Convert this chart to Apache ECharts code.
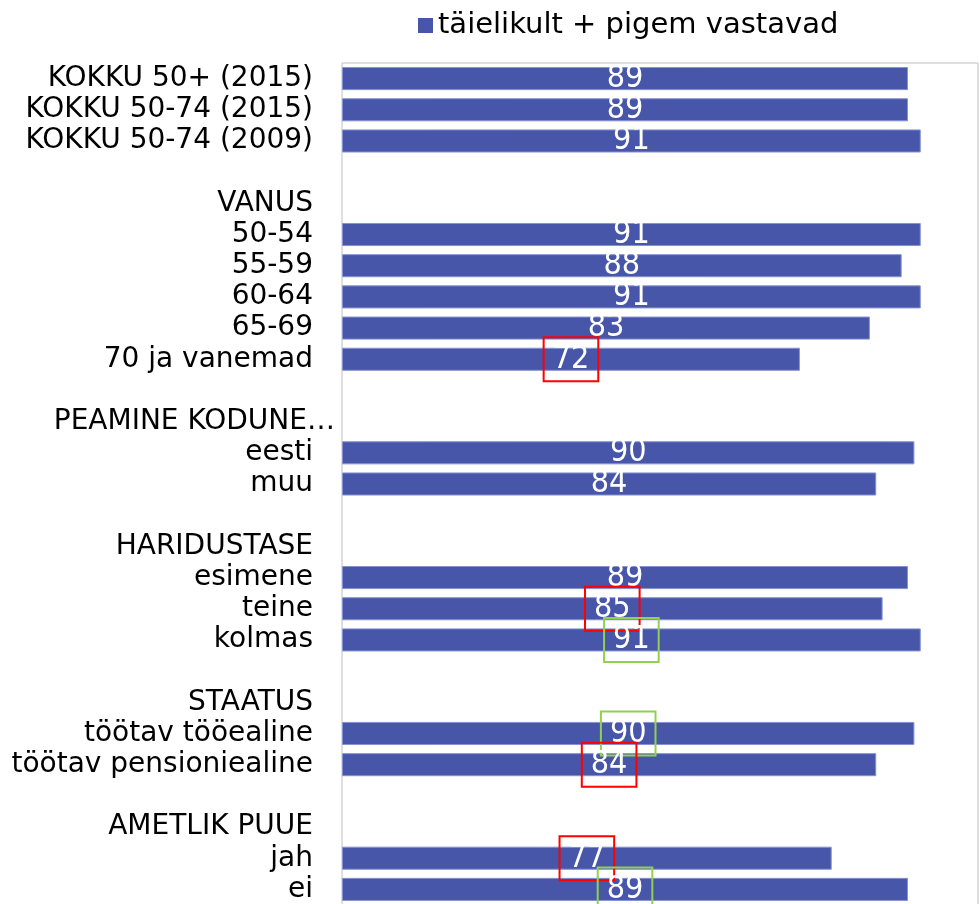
<!DOCTYPE html>
<html><head><meta charset="utf-8">
<script src="https://cdn.jsdelivr.net/npm/echarts@6/dist/echarts.min.js"></script>
<style>html,body{margin:0;padding:0;background:#fff}#c{width:980px;height:904px}</style>
</head><body><div id="c"></div>
<script>
const categories = [
  'KOKKU 50+ (2015)', 'KOKKU 50-74 (2015)', 'KOKKU 50-74 (2009)', '',
  'VANUS', '50-54', '55-59', '60-64', '65-69', '70 ja vanemad', '',
  'PEAMINE KODUNE…', 'eesti', 'muu', '',
  'HARIDUSTASE', 'esimene', 'teine', 'kolmas', '',
  'STAATUS', 'töötav tööealine', 'töötav pensioniealine', '',
  'AMETLIK PUUE', 'jah', 'ei'
];
const values = [
  89, 89, 91, null,
  null, 91, 88, 91, 83, 72, null,
  null, 90, 84, null,
  null, 89, 85, 91, null,
  null, 90, 84, null,
  null, 77, 89
];
const seriesName = 'täielikult + pigem vastavad';
const redBoxed = ['70 ja vanemad', 'teine', 'töötav pensioniealine', 'jah'];
const greenBoxed = ['kolmas', 'töötav tööealine', 'ei'];
const truncatedLabel = 'PEAMINE KODUNE…';

const chart = echarts.init(document.getElementById('c'), null, {renderer: 'canvas'});
const seriesData = values.map((v, i) => {
  if (v === null) return {value: null};
  const item = {value: v};
  const name = categories[i];
  let c = null;
  if (redBoxed.includes(name)) c = '#FF0000';
  else if (greenBoxed.includes(name)) c = '#92D050';
  if (c) item.label = {borderColor: c, borderWidth: 2, padding: [6, 9]};
  return item;
});

const FONT = "'DejaVu Sans', Verdana, sans-serif";
const VFONT = "'DejaVu Sans Condensed', 'Liberation Sans Narrow', 'DejaVu Sans', sans-serif";

chart.setOption({
  animation: false,
  backgroundColor: '#fff',
  legend: {
    data: [seriesName],
    left: 413, top: 6,
    icon: 'rect', itemWidth: 15, itemHeight: 15,
    selectedMode: false,
    itemStyle: {borderWidth: 0},
    textStyle: {fontSize: 29, color: '#000', fontFamily: FONT}
  },
  grid: {
    left: 342, right: 2, top: 63, bottom: -1,
    show: true, borderColor: '#BFBFBF', borderWidth: 1,
    outerBoundsMode: 'none', containLabel: false
  },
  xAxis: {type: 'value', min: 0, max: 100, show: false},
  yAxis: {
    type: 'category', data: categories, inverse: true,
    axisLine: {show: false}, axisTick: {show: false}, splitLine: {show: false},
    axisLabel: {
      margin: 7, interval: 0,
      formatter: v => v === truncatedLabel ? '{t|' + v + '}' : '{n|' + v + '}',
      rich: {
        n: {fontSize: 28, color: '#000', fontFamily: FONT, padding: [0, 22, 0, 0]},
        t: {fontSize: 28, color: '#000', fontFamily: FONT}
      }
    }
  },
  series: [{
    name: seriesName, type: 'bar', data: seriesData,
    barCategoryGap: '26%',
    itemStyle: {color: '#4756A8', borderColor: '#8592D3', borderWidth: 1},
    label: {
      show: true, position: 'inside', color: '#fff',
      fontSize: 32, lineHeight: 32, fontFamily: VFONT,
      textBorderWidth: 0, formatter: '{c}'
    }
  }]
});
</script></body></html>
